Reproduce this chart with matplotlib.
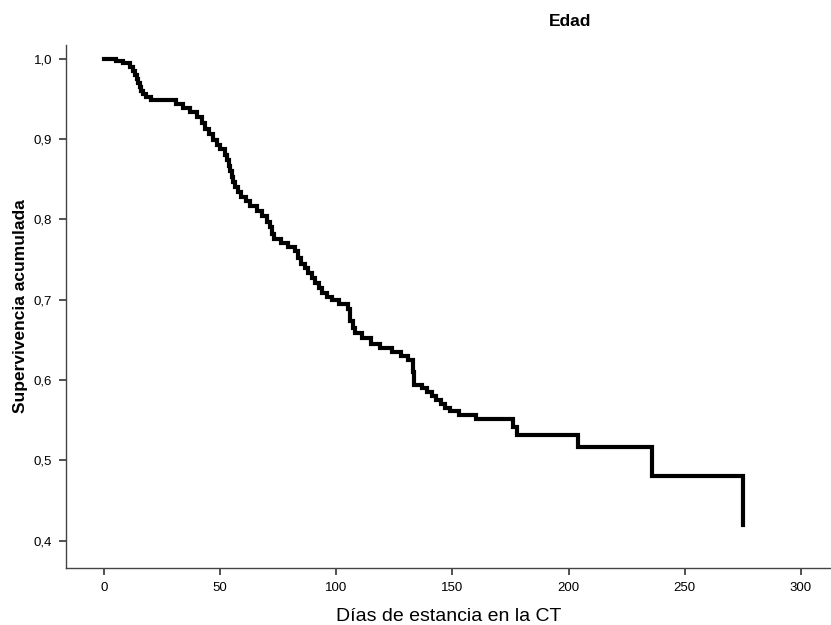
import matplotlib
matplotlib.use("Agg")
import matplotlib.pyplot as plt
from matplotlib.ticker import FuncFormatter

plt.rcParams['font.family'] = ['Liberation Sans', 'DejaVu Sans']

# Kaplan-Meier estimate: event day and cumulative survival after it
dias = [0, 5, 8, 11, 12.5, 13.3, 14, 14.7, 15.3, 16, 16.8, 18, 20, 31, 34, 37,
        40, 42, 43.5, 45, 47, 48.5, 50, 52, 53, 53.7, 54.2, 55, 55.7, 56.5,
        57.5, 59, 61, 63, 66, 68, 70, 71.5, 72.5, 73, 76, 79, 82, 83.6, 85,
        86.5, 88, 89.5, 91, 92.5, 94, 96, 98, 101, 105, 106, 107, 108, 111,
        115, 119, 124, 128, 131, 133, 133.5, 137, 139, 141, 143, 145, 147,
        149, 153, 160, 176, 178, 204, 236, 275]
supervivencia = [1.000, 0.997, 0.994, 0.990, 0.985, 0.980, 0.975, 0.970, 0.965,
                 0.960, 0.956, 0.952, 0.949, 0.944, 0.939, 0.933, 0.927, 0.920,
                 0.912, 0.906, 0.899, 0.893, 0.887, 0.880, 0.874, 0.867, 0.860,
                 0.853, 0.846, 0.840, 0.834, 0.828, 0.823, 0.816, 0.810, 0.804,
                 0.797, 0.790, 0.782, 0.775, 0.771, 0.765, 0.760, 0.752, 0.745,
                 0.740, 0.733, 0.727, 0.721, 0.714, 0.708, 0.703, 0.699, 0.694,
                 0.688, 0.674, 0.665, 0.658, 0.652, 0.645, 0.640, 0.635, 0.630,
                 0.625, 0.610, 0.594, 0.590, 0.585, 0.580, 0.575, 0.570, 0.565,
                 0.561, 0.557, 0.551, 0.541, 0.531, 0.516, 0.480, 0.420]
xticks = [0, 50, 100, 150, 200, 250, 300]
yticks = [0.4, 0.5, 0.6, 0.7, 0.8, 0.9, 1.0]

fig = plt.figure(figsize=(8.31, 6.25), dpi=100)
ax = fig.add_axes([66/831, 1 - 568/625, 1 - 66/831, (568 - 45)/625])

ax.step(dias, supervivencia, where='post', color='black', lw=3,
        solid_joinstyle='miter')

ax.set_xlim(-16.4, 313)
ax.set_ylim(0.366, 1.017)
ax.set_xticks(xticks)
ax.set_yticks(yticks)
ax.yaxis.set_major_formatter(FuncFormatter(lambda v, p: f"{v:.1f}".replace('.', ',')))

for s in ['top', 'right']:
    ax.spines[s].set_visible(False)
for s in ['left', 'bottom']:
    ax.spines[s].set_color('#444444')
    ax.spines[s].set_linewidth(1.0)
ax.tick_params(axis='both', direction='out', length=5, width=1.2,
               color='#333333', labelsize=9.5, pad=5)

ax.set_xlabel('Días de estancia en la CT', fontsize=14, labelpad=10)
ax.set_ylabel('Supervivencia acumulada', fontsize=12.5, fontweight='bold', labelpad=4)
fig.text(570/831, 1 - 22/625, 'Edad', fontsize=12.5, fontweight='bold',
         ha='center', va='center')

fig.savefig('out.png', dpi=100)
